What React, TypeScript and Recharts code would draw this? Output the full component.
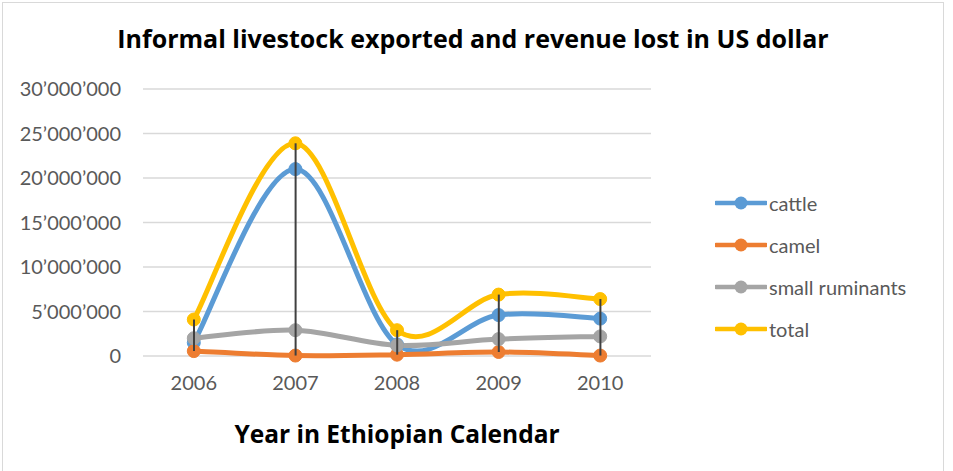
import { ComposedChart, Line, Bar, XAxis, YAxis, CartesianGrid } from 'recharts';

const years = ['2006', '2007', '2008', '2009', '2010'];
const cattle = [1500000, 21000000, 1300000, 4600000, 4200000];
const camel = [550000, 50000, 150000, 450000, 50000];
const smallRuminants = [2000000, 2900000, 1200000, 1900000, 2200000];
const total = [4100000, 23900000, 2900000, 6900000, 6400000];
const yTicks = [0, 5000000, 10000000, 15000000, 20000000, 25000000, 30000000];

const seriesInfo = [
  { key: 'cattle', name: 'cattle', color: '#5B9BD5' },
  { key: 'camel', name: 'camel', color: '#ED7D31' },
  { key: 'smallRuminants', name: 'small ruminants', color: '#A5A5A5' },
  { key: 'total', name: 'total', color: '#FFC000' },
];

const data = years.map((year, i) => {
  const vals = [cattle[i], camel[i], smallRuminants[i], total[i]];
  return {
    year,
    cattle: cattle[i],
    camel: camel[i],
    smallRuminants: smallRuminants[i],
    total: total[i],
    hiLo: [Math.min(...vals), Math.max(...vals)],
  };
});

const fmt = (v: number) => String(v).replace(/\B(?=(\d{3})+(?!\d))/g, '\u2019');

// excel-like smoothed line (catmull-rom as bezier)
const smoothCurve = (context: any) => {
  let pts: number[][] = [];
  return {
    areaStart() {},
    areaEnd() {},
    lineStart() { pts = []; },
    point(x: number, y: number) { pts.push([+x, +y]); },
    lineEnd() {
      if (!pts.length) return;
      context.moveTo(pts[0][0], pts[0][1]);
      for (let i = 0; i < pts.length - 1; i++) {
        const p0 = pts[Math.max(i - 1, 0)];
        const p1 = pts[i];
        const p2 = pts[i + 1];
        const p3 = pts[Math.min(i + 2, pts.length - 1)];
        const t = 1 / 6;
        context.bezierCurveTo(
          p1[0] + (p2[0] - p0[0]) * t, p1[1] + (p2[1] - p0[1]) * t,
          p2[0] - (p3[0] - p1[0]) * t, p2[1] - (p3[1] - p1[1]) * t,
          p2[0], p2[1],
        );
      }
    },
  };
};

const font = 'Lato, "Open Sans", sans-serif';
const boldFont = '"Open Sans", Lato, sans-serif';

const LegendBox = () => (
  <div style={{ position: 'absolute', left: 715, top: 182, fontFamily: font }}>
    {seriesInfo.map((s) => (
      <div key={s.key} style={{ display: 'flex', alignItems: 'center', height: 42 }}>
        <svg width={52} height={14}>
          <line x1={1} y1={7} x2={51} y2={7} stroke={s.color} strokeWidth={4.5} strokeLinecap="round" />
          <circle cx={26} cy={7} r={6.5} fill={s.color} />
        </svg>
        <span style={{ fontSize: 20, color: '#595959', marginLeft: 2 }}>{s.name}</span>
      </div>
    ))}
  </div>
);

export default function App() {
  return (
    <div style={{ position: 'relative', width: 953, height: 471, overflow: 'hidden', background: '#fff' }}>
      <style>{'body{margin:0}'}</style>
      <div style={{ position: 'absolute', left: 2, top: 2, width: 940, height: 480, border: '1px solid #d9d9d9' }} />
      <div style={{ position: 'absolute', left: 0, top: 21, width: 946, textAlign: 'center', fontFamily: boldFont, fontWeight: 700, fontSize: 25, color: '#000' }}>
        Informal livestock exported and revenue lost in US dollar
      </div>
      <div style={{ position: 'absolute', left: 143, top: 417, width: 508, textAlign: 'center', fontFamily: boldFont, fontWeight: 700, fontSize: 24.5, color: '#000' }}>
        Year in Ethiopian Calendar
      </div>
      <div style={{ position: 'absolute', left: 0, top: 0 }}>
        <ComposedChart width={953} height={471} data={data} margin={{ top: 89, right: 302, bottom: 85, left: 0 }}>
          <CartesianGrid vertical={false} stroke="#d9d9d9" strokeWidth={1.5} />
          <XAxis dataKey="year" axisLine={false} tickLine={false} tickSize={0} tickMargin={20} height={30}
            tick={{ fontSize: 20, fill: '#595959', fontFamily: font }} />
          <YAxis width={143} domain={[0, 30000000]} ticks={yTicks} tickFormatter={fmt} axisLine={false} tickLine={false}
            tickSize={0} tickMargin={22} tick={{ fontSize: 20, fill: '#595959', fontFamily: font }} />
          {seriesInfo.map((s) => (
            <Line key={s.key} dataKey={s.key} name={s.name} type={smoothCurve as any} stroke={s.color} strokeWidth={5}
              dot={{ r: 6.5, fill: s.color, stroke: s.color, strokeWidth: 1 }} isAnimationActive={false} />
          ))}
          <Bar dataKey="hiLo" barSize={2} fill="#404040" legendType="none" zIndex={1000} isAnimationActive={false} />
        </ComposedChart>
      </div>
      <LegendBox />
    </div>
  );
}
